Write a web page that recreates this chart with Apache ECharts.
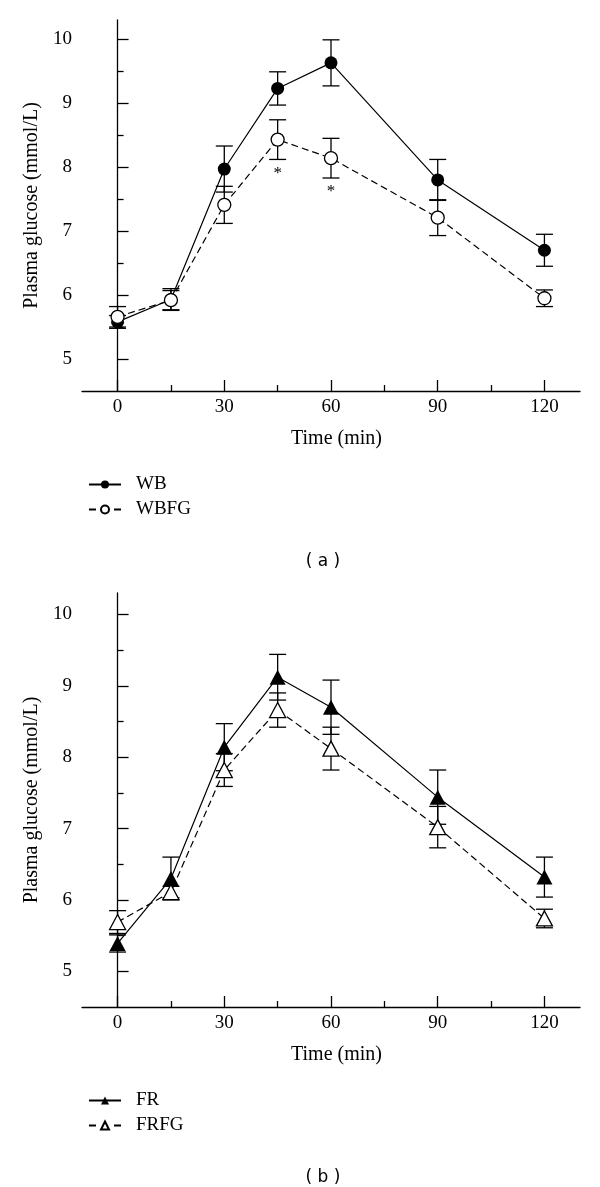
<!DOCTYPE html>
<html><head><meta charset="utf-8">
<script src="https://cdn.jsdelivr.net/npm/echarts@6/dist/echarts.min.js"></script>
<style>html,body{margin:0;padding:0;background:#fff}#c{width:600px;height:1187px}</style>
</head><body><div id="c"></div>
<script>
// ---- data ----
const times = [0, 15, 30, 45, 60, 90, 120];
const wbMean   = [5.58, 5.93, 7.97, 9.23, 9.63, 7.80, 6.70];
const wbSem    = [0.10, 0.17, 0.36, 0.26, 0.36, 0.32, 0.25];
const wbfgMean = [5.66, 5.92, 7.41, 8.43, 8.14, 7.21, 5.95];
const wbfgSem  = [0.16, 0.15, 0.29, 0.31, 0.31, 0.28, 0.13];
const frMean   = [5.39, 6.30, 8.14, 9.12, 8.70, 7.44, 6.32];
const frSem    = [0.12, 0.30, 0.33, 0.32, 0.38, 0.38, 0.28];
const frfgMean = [5.69, 6.11, 7.82, 8.66, 8.12, 7.02, 5.74];
const frfgSem  = [0.16, 0.08, 0.23, 0.24, 0.30, 0.29, 0.13];
const sigTimesA = [45, 60]; // WBFG vs WB significant (*)
const yMajor = [5, 6, 7, 8, 9, 10];
const yMinor = [5.5, 6.5, 7.5, 8.5, 9.5];
const xMajor = [0, 30, 60, 90, 120];
const xMinor = [15, 45, 75, 105];
const panelLabels = ['( a )', '( b )'];
const yName = 'Plasma glucose (mmol/L)';
const xName = 'Time (min)';

// ---- build ----
const SERIF = '"Liberation Serif", "Times New Roman", serif';
const chart = echarts.init(document.getElementById('c'), null, {renderer: 'canvas'});
const pairs = (m) => times.map((t, i) => [t, m[i]]);
const bars = (m, s) => times.map((t, i) => [t, +(m[i] - s[i]).toFixed(3), +(m[i] + s[i]).toFixed(3)]);

const grids = [
  {left: 82, right: 20, top: 20, height: 371},
  {left: 82, right: 20, top: 593, height: 414}
];
const axisLine = {show: true, lineStyle: {color: '#000', width: 1.3}};
const xAxes = [], yAxes = [];
grids.forEach((g, gi) => {
  xAxes.push({gridIndex: gi, type: 'value', min: -10, max: 130, position: 'bottom',
    name: xName, nameLocation: 'middle', nameGap: 38,
    nameTextStyle: {fontFamily: SERIF, fontSize: 20, color: '#000', padding: [0, 0, 0, 11]},
    axisLine, splitLine: {show: false},
    axisTick: {inside: true, length: 11, lineStyle: {color: '#000', width: 1.3}, customValues: xMajor},
    axisLabel: {customValues: xMajor, fontFamily: SERIF, fontSize: 19, color: '#000', margin: 7}});
  xAxes.push({gridIndex: gi, type: 'value', min: -10, max: 130, position: 'bottom', offset: 0,
    axisLine: {show: false}, splitLine: {show: false},
    axisTick: {inside: true, length: 6, lineStyle: {color: '#000', width: 1.3}, customValues: xMinor},
    axisLabel: {show: false}});
  yAxes.push({gridIndex: gi, type: 'value', min: 4.5, max: 10.3, position: 'left',
    name: yName, nameLocation: 'middle', nameGap: 40, nameRotate: 90,
    nameTextStyle: {fontFamily: SERIF, fontSize: 20, color: '#000'},
    axisLine, splitLine: {show: false},
    axisTick: {inside: true, length: 11, lineStyle: {color: '#000', width: 1.3}, customValues: yMajor},
    axisLabel: {customValues: yMajor, fontFamily: SERIF, fontSize: 19, color: '#000', margin: 10}});
  yAxes.push({gridIndex: gi, type: 'value', min: 4.5, max: 10.3, position: 'left', offset: 0,
    axisLine: {show: false}, splitLine: {show: false},
    axisTick: {inside: true, length: 6, lineStyle: {color: '#000', width: 1.3}, customValues: yMinor},
    axisLabel: {show: false}});
});

function errSeries(gi, m, s) {
  return {type: 'custom', xAxisIndex: gi * 2, yAxisIndex: gi * 2, z: 2, silent: true,
    data: bars(m, s), encode: {x: 0, y: [1, 2]},
    renderItem: (params, api) => {
      const x = api.value(0);
      const lo = api.coord([x, api.value(1)]);
      const hi = api.coord([x, api.value(2)]);
      const w = 8.5;
      const st = {stroke: '#000', lineWidth: 1.3, fill: null};
      return {type: 'group', children: [
        {type: 'line', shape: {x1: lo[0], y1: lo[1], x2: hi[0], y2: hi[1]}, style: st},
        {type: 'line', shape: {x1: hi[0] - w, y1: hi[1], x2: hi[0] + w, y2: hi[1]}, style: st},
        {type: 'line', shape: {x1: lo[0] - w, y1: lo[1], x2: lo[0] + w, y2: lo[1]}, style: st}
      ]};
    }};
}
function lineSeries(gi, name, m, symbol, size, filled, dashed) {
  return {type: 'line', name, xAxisIndex: gi * 2, yAxisIndex: gi * 2, z: 5,
    data: pairs(m), symbol, symbolSize: size, showAllSymbol: true,
    lineStyle: {color: '#000', width: 1.2, type: dashed ? [7, 4] : 'solid'},
    itemStyle: {color: filled ? '#000' : '#fff', borderColor: '#000', borderWidth: filled ? 0 : 1.3, opacity: 1},
    emphasis: {disabled: true}, animation: false};
}
const sigData = sigTimesA.map(t => { const i = times.indexOf(t); return [t, wbfgMean[i] - wbfgSem[i]]; });

const option = {
  animation: false,
  backgroundColor: '#fff',
  grid: grids,
  xAxis: xAxes,
  yAxis: yAxes,
  title: [
    {text: panelLabels[0], left: 318, top: 548, textAlign: 'center',
     textStyle: {fontFamily: '"DejaVu Sans", sans-serif', fontSize: 17, fontWeight: 'normal', color: '#000'}},
    {text: panelLabels[1], left: 318, top: 1164, textAlign: 'center',
     textStyle: {fontFamily: '"DejaVu Sans", sans-serif', fontSize: 17, fontWeight: 'normal', color: '#000'}}
  ],
  legend: [
    {orient: 'vertical', left: 83, top: 470, itemWidth: 32, itemHeight: 10, itemGap: 6,
     textStyle: {fontFamily: SERIF, fontSize: 19, color: '#000', padding: [0, 0, 0, 10]},
     selectedMode: false,
     data: [{name: 'WB'}, {name: 'WBFG', lineStyle: {type: [7, 18]}}]},
    {orient: 'vertical', left: 83, top: 1086, itemWidth: 32, itemHeight: 10, itemGap: 6,
     textStyle: {fontFamily: SERIF, fontSize: 19, color: '#000', padding: [0, 0, 0, 10]},
     selectedMode: false,
     data: [{name: 'FR'}, {name: 'FRFG', lineStyle: {type: [7, 18]}}]}
  ],
  series: [
    errSeries(0, wbMean, wbSem),
    errSeries(0, wbfgMean, wbfgSem),
    lineSeries(0, 'WB', wbMean, 'circle', 13, true, false),
    lineSeries(0, 'WBFG', wbfgMean, 'circle', 13, false, true),
    {type: 'custom', xAxisIndex: 0, yAxisIndex: 0, z: 6, silent: true, data: sigData,
     renderItem: (params, api) => {
       const p = api.coord([api.value(0), api.value(1)]);
       return {type: 'text', x: p[0], y: p[1] + 14,
         style: {text: '*', fontFamily: SERIF, fontSize: 17, fill: '#000', align: 'center', verticalAlign: 'middle'}};
     }},
    errSeries(1, frMean, frSem),
    errSeries(1, frfgMean, frfgSem),
    lineSeries(1, 'FR', frMean, 'triangle', [16, 15], true, false),
    lineSeries(1, 'FRFG', frfgMean, 'triangle', [16, 15], false, true)
  ]
};
chart.setOption(option);
</script></body></html>
